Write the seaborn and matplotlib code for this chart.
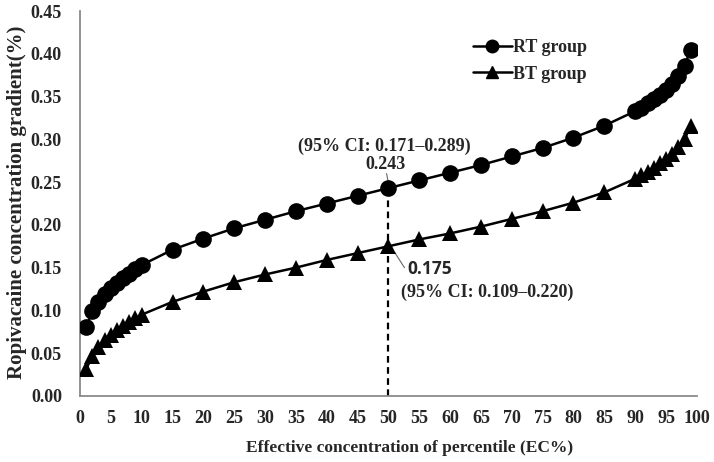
import matplotlib
matplotlib.use("Agg")
import matplotlib.pyplot as plt
import seaborn as sns
import pandas as pd
from matplotlib.lines import Line2D

ec = [1, 2, 3, 4, 5, 6, 7, 8, 9, 10, 15, 20, 25, 30, 35, 40, 45, 50, 55, 60,
      65, 70, 75, 80, 85, 90, 91, 92, 93, 94, 95, 96, 97, 98, 99]
rt = [0.081, 0.099, 0.110, 0.119, 0.126, 0.132, 0.138, 0.143, 0.148, 0.153,
      0.171, 0.184, 0.196, 0.206, 0.216, 0.225, 0.234, 0.243, 0.252, 0.261,
      0.270, 0.280, 0.290, 0.302, 0.316, 0.333, 0.337, 0.342, 0.347, 0.352,
      0.358, 0.365, 0.374, 0.386, 0.405]
bt = [0.031, 0.047, 0.057, 0.065, 0.071, 0.077, 0.082, 0.087, 0.091, 0.095,
      0.110, 0.122, 0.133, 0.142, 0.150, 0.159, 0.167, 0.175, 0.183, 0.190,
      0.198, 0.207, 0.216, 0.226, 0.238, 0.254, 0.258, 0.262, 0.267, 0.272,
      0.277, 0.283, 0.291, 0.300, 0.316]
xticks = list(range(0, 101, 5))
yticks = [0.00, 0.05, 0.10, 0.15, 0.20, 0.25, 0.30, 0.35, 0.40, 0.45]

sns.set_style("white")
plt.rcParams['font.family'] = ['Liberation Serif', 'DejaVu Serif']
plt.rcParams['font.weight'] = 'bold'

fig = plt.figure(figsize=(7.14, 4.62), dpi=100)
ax = fig.add_axes([0.112, 0.143, 0.864, 0.833])

df_rt = pd.DataFrame({"x": ec, "y": rt})
df_bt = pd.DataFrame({"x": ec, "y": bt})
sns.lineplot(data=df_rt, x="x", y="y", ax=ax, color="black", lw=1.8,
             marker="o", markersize=12, markeredgewidth=0, zorder=3)
sns.lineplot(data=df_bt, x="x", y="y", ax=ax, color="black", lw=1.8,
             marker="^", markersize=12, markeredgewidth=0, zorder=3)

ax.set_xlim(0, 100)
ax.set_ylim(0, 0.45)
ax.set_xticks(xticks)
ax.set_yticks(yticks)
ax.set_xticklabels([str(t) for t in xticks])
ax.set_yticklabels([f"{t:.2f}" for t in yticks])
for s in ["top", "right"]:
    ax.spines[s].set_visible(False)
for s in ["left", "bottom"]:
    ax.spines[s].set_color("#8a8a8a")
    ax.spines[s].set_linewidth(1.3)
ax.tick_params(axis="both", direction="in", length=4, width=1.2, color="#8a8a8a",
               labelsize=13)
ax.tick_params(axis="y", pad=13)
ax.tick_params(axis="x", pad=10)
for lab in ax.get_xticklabels() + ax.get_yticklabels():
    lab.set_fontweight("bold")

ax.set_xlabel("Effective concentration of percentile (EC%)", fontsize=12.5,
              fontweight="bold")
ax.xaxis.set_label_coords(0.535, -0.115)
ax.set_ylabel("Ropivacaine concentration gradient(%)", fontsize=15,
              fontweight="bold")
ax.yaxis.set_label_coords(-0.086, 0.504)

# dashed line at EC50
ax.plot([50, 50], [0, 0.243], color="black", lw=1.6, ls=(0, (3, 2)), zorder=2)

ax.text(49.3, 0.2915, "(95% CI: 0.171\u20130.289)", ha="center", va="center",
        fontsize=13, fontweight="bold")
ax.text(49.6, 0.2705, "0.243", ha="center", va="center", fontsize=13,
        fontweight="bold")
ax.plot([49.7, 50], [0.260, 0.249], color="#666666", lw=0.8)
ax.text(53.0, 0.148, "0.175", ha="left", va="center", fontsize=12.5,
        fontweight="bold", family=["Open Sans", "DejaVu Sans"])
ax.plot([51.0, 52.6], [0.168, 0.150], color="#666666", lw=0.8)
ax.text(52.0, 0.121, "(95% CI: 0.109\u20130.220)", ha="left", va="center",
        fontsize=13, fontweight="bold")

handles = [Line2D([], [], color="black", lw=1.8, marker="o", markersize=9),
           Line2D([], [], color="black", lw=1.8, marker="^", markersize=9)]
leg = ax.legend(handles, ["RT group", "BT group"], loc="upper left",
                bbox_to_anchor=(0.61, 0.97), frameon=False, fontsize=13,
                handlelength=2.2, handletextpad=0.05, labelspacing=0.55)
for t in leg.get_texts():
    t.set_fontweight("bold")

fig.savefig("out.png", dpi=100)
